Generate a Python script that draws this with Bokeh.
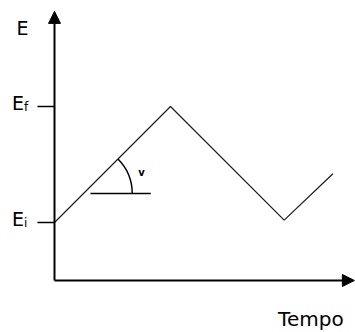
from bokeh.plotting import figure
from bokeh.models import Range1d, Arrow, NormalHead
from bokeh.core.properties import value
from bokeh.embed import file_html
from bokeh.resources import INLINE
import math

# --- data (time in sweep units, potential with Ei = 0, Ef = 1) ---
tempo = [0.0, 1.0, 1.98, 2.40]
potencial = [0.0, 1.0, 0.02, 0.42]
tick_values = [0.0, 1.0]          # Ei, Ef
tick_main = ["E", "E"]
tick_sub = ["i", "f"]
axis_origin = -0.5                # where the time axis crosses
y_axis_top = 1.82
x_axis_end = 2.585
angle_vertex = 0.25               # point on first ramp where the angle is marked
angle_line_end = 0.83
angle_radius = 0.42
angle_deg = 45.0

p = figure(width=355, height=332,
           x_range=Range1d(-0.4655, 2.5948), y_range=Range1d(-0.9483, 1.9138),
           min_border=0, toolbar_location=None, output_backend="svg",
           x_axis_location=None, y_axis_location=None)
p.grid.visible = False
p.outline_line_color = None
p.background_fill_color = "white"
p.border_fill_color = "white"

FONT = value("DejaVu Sans")

# axes with arrowheads
p.add_layout(Arrow(end=NormalHead(size=12, fill_color="black", line_color="black", line_width=1),
                   x_start=0, y_start=axis_origin, x_end=0, y_end=y_axis_top,
                   line_width=2, line_color="black"))
p.add_layout(Arrow(end=NormalHead(size=12, fill_color="black", line_color="black", line_width=1),
                   x_start=0, y_start=axis_origin, x_end=x_axis_end, y_end=axis_origin,
                   line_width=2, line_color="black"))

# ticks for Ei and Ef
tick_len = 0.147
p.segment(x0=[-tick_len] * len(tick_values), y0=tick_values,
          x1=[0.0] * len(tick_values), y1=tick_values,
          line_color="black", line_width=1.5)

# potential waveform
p.line(tempo, potencial, line_color="#1a1a1a", line_width=1.2)

# angle marker
p.line([angle_vertex + 0.06, angle_line_end], [angle_vertex, angle_vertex],
       line_color="black", line_width=1.3)
p.arc(x=[angle_vertex], y=[angle_vertex], radius=angle_radius,
      start_angle=0, end_angle=math.radians(angle_deg),
      line_color="black", line_width=1.5)
p.text(x=[0.75], y=[0.43], text=["v"], text_font=FONT, text_font_size="10px",
       text_font_style="bold", text_align="center", text_baseline="middle", text_color="black")

# labels
p.text(x=[-0.276], y=[1.68], text=["E"], text_font=FONT, text_font_size="19px",
       text_align="center", text_baseline="alphabetic", text_color="black")
p.text(x=[-0.366] * 2, y=[v + 0.03 for v in tick_values], text=tick_main, text_font=FONT,
       text_font_size="19px", text_align="left", text_baseline="alphabetic", text_color="black")
p.text(x=[-0.262] * 2, y=[v - 0.005 for v in tick_values], text=tick_sub, text_font=FONT,
       text_font_size="12px", text_align="left", text_baseline="alphabetic", text_color="black")
p.text(x=[2.21], y=[-0.835], text=["Tempo"], text_font=FONT, text_font_size="20px",
       text_align="center", text_baseline="alphabetic", text_color="black")

open("out.html", "w").write(file_html(p, INLINE))
